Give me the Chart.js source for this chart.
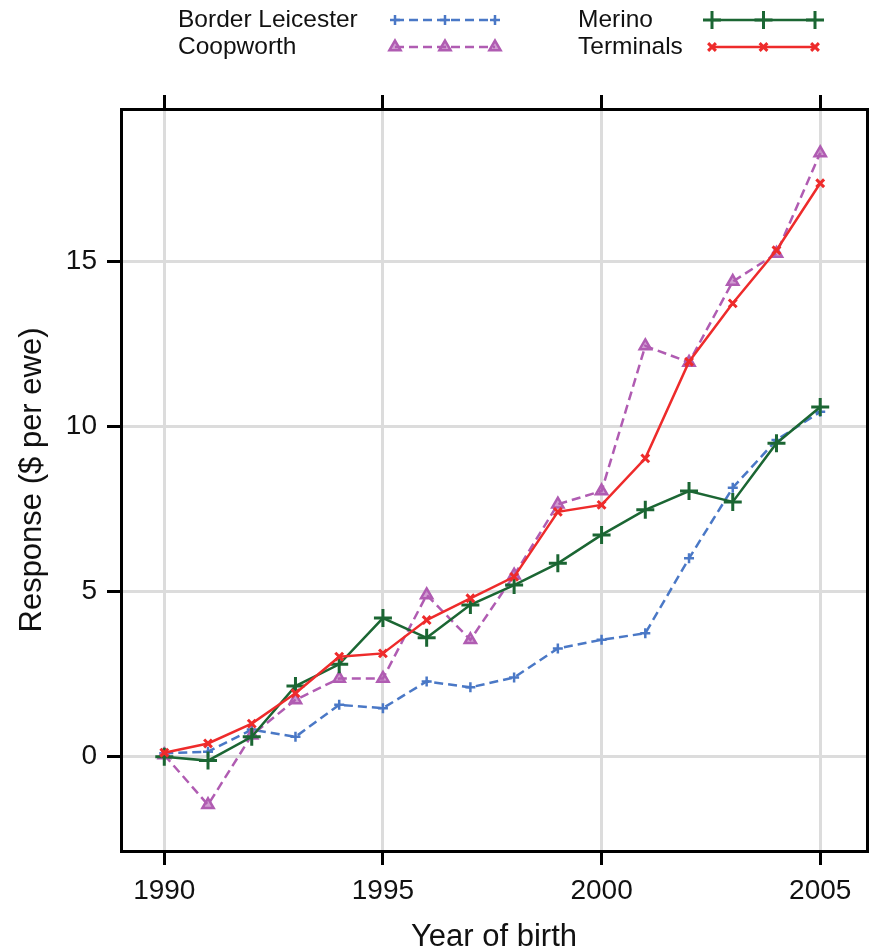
<!DOCTYPE html>
<html>
<head>
<meta charset="utf-8">
<script src="https://cdn.jsdelivr.net/npm/chart.js@4.4.1/dist/chart.umd.min.js"></script>
<style>
  html, body { margin: 0; padding: 0; background: #ffffff; }
  canvas { display: block; }
</style>
</head>
<body>
<canvas id="chart" width="870" height="948"></canvas>
<script>
// Genetic response by year of birth, per breed group
const years = [1990, 1991, 1992, 1993, 1994, 1995, 1996, 1997, 1998, 1999, 2000, 2001, 2002, 2003, 2004, 2005];
const borderLeicester = [0.1, 0.15, 0.82, 0.6, 1.57, 1.47, 2.28, 2.1, 2.4, 3.28, 3.54, 3.74, 6.01, 8.15, 9.6, 10.45];
const coopworth = [0.05, -1.46, 0.65, 1.72, 2.37, 2.37, 4.9, 3.54, 5.5, 7.65, 8.05, 12.45, 11.95, 14.4, 15.25, 18.3];
const merino = [0, -0.12, 0.6, 2.14, 2.8, 4.2, 3.6, 4.6, 5.2, 5.86, 6.72, 7.48, 8.05, 7.72, 9.5, 10.6];
const terminals = [0.12, 0.4, 1.0, 1.92, 3.03, 3.13, 4.14, 4.8, 5.45, 7.42, 7.63, 9.04, 11.97, 13.74, 15.35, 17.38];

const xTickValues = [1990, 1995, 2000, 2005];
const yTickValues = [0, 5, 10, 15];

const xTitle = 'Year of birth';
const yTitle = 'Response ($ per ewe)';

const FONT = "'Liberation Sans', Arial, Helvetica, sans-serif";
const GRID = '#dcdcdc';
const INK = '#111111';

const toPoints = (arr) => years.map((yr, i) => ({ x: yr, y: arr[i] }));

const X_MIN = 1989.01, X_MAX = 2006.07;
const Y_MIN = -2.86, Y_MAX = 19.63;

const setTicks = (values) => (scale) => { scale.ticks = values.map(v => ({ value: v })); };

// fixed axis thickness, no extra room reserved for overhanging labels
const fixSize = (prop, size) => (scale) => {
  scale[prop] = size;
  scale.paddingLeft = 0; scale.paddingRight = 0;
  scale.paddingTop = 0; scale.paddingBottom = 0;
};

// Two-column key drawn above the panel
const keyPlugin = {
  id: 'topKey',
  afterDraw(chart) {
    const ctx = chart.ctx;
    const slots = [
      { ds: 0, tx: 178, y: 20, x0: 395, x1: 495 },
      { ds: 1, tx: 178, y: 47, x0: 395, x1: 495 },
      { ds: 2, tx: 578, y: 20, x0: 712, x1: 815 },
      { ds: 3, tx: 578, y: 47, x0: 712, x1: 815 }
    ];
    ctx.save();
    slots.forEach(s => {
      const d = chart.data.datasets[s.ds];
      ctx.font = '24.5px ' + FONT;
      ctx.fillStyle = INK;
      ctx.textAlign = 'left';
      ctx.textBaseline = 'middle';
      ctx.fillText(d.label, s.tx, s.y);

      ctx.strokeStyle = d.borderColor;
      ctx.lineWidth = d.borderWidth;
      ctx.setLineDash(d.borderDash || []);
      ctx.beginPath();
      ctx.moveTo(s.x0, s.y);
      ctx.lineTo(s.x1, s.y);
      ctx.stroke();
      ctx.setLineDash([]);

      [s.x0, (s.x0 + s.x1) / 2, s.x1].forEach(px => {
        ctx.strokeStyle = d.pointBorderColor;
        ctx.fillStyle = d.pointBackgroundColor;
        ctx.lineWidth = d.pointBorderWidth;
        Chart.helpers.drawPoint(ctx, {
          pointStyle: d.pointStyle,
          radius: d.pointRadius,
          rotation: 0,
          borderWidth: d.pointBorderWidth
        }, px, s.y);
      });
    });
    ctx.restore();
  }
};

const BLUE = '#4a78c6';
const PURPLE = '#b05cb2';
const GREEN = '#1b6633';
const RED = '#ee2b2b';

new Chart(document.getElementById('chart'), {
  type: 'line',
  data: {
    datasets: [
      {
        label: 'Border Leicester',
        data: toPoints(borderLeicester),
        borderColor: BLUE, borderWidth: 2.5, borderDash: [9, 5],
        pointStyle: 'cross', pointRadius: 5, pointBorderWidth: 2.5,
        pointBorderColor: BLUE, pointBackgroundColor: BLUE,
        order: 4
      },
      {
        label: 'Coopworth',
        data: toPoints(coopworth),
        borderColor: PURPLE, borderWidth: 2.5, borderDash: [9, 5],
        pointStyle: 'triangle', pointRadius: 6.5, pointBorderWidth: 2.5,
        pointBorderColor: PURPLE, pointBackgroundColor: 'rgba(176,92,178,0.6)',
        order: 3
      },
      {
        label: 'Merino',
        data: toPoints(merino),
        borderColor: GREEN, borderWidth: 2.5,
        pointStyle: 'cross', pointRadius: 9, pointBorderWidth: 3,
        pointBorderColor: GREEN, pointBackgroundColor: GREEN,
        order: 2
      },
      {
        label: 'Terminals',
        data: toPoints(terminals),
        borderColor: RED, borderWidth: 2.5,
        pointStyle: 'crossRot', pointRadius: 5.5, pointBorderWidth: 3,
        pointBorderColor: RED, pointBackgroundColor: RED,
        order: 1
      }
    ]
  },
  options: {
    responsive: false,
    animation: false,
    events: [],
    layout: { padding: 0, autoPadding: false },
    elements: { line: { tension: 0, fill: false } },
    plugins: { legend: { display: false }, tooltip: { enabled: false } },
    scales: {
      x: {
        type: 'linear', position: 'bottom',
        min: X_MIN, max: X_MAX,
        afterBuildTicks: setTicks(xTickValues),
        afterFit: fixSize('height', 97),
        grid: { color: GRID, lineWidth: 3, tickColor: '#000', tickWidth: 3, tickLength: 14 },
        border: { display: true, color: '#000', width: 3 },
        ticks: {
          color: INK, padding: 9, maxRotation: 0, autoSkip: false,
          font: { family: FONT, size: 28 },
          callback: (v) => String(v)
        },
        title: {
          display: true, text: xTitle, color: INK,
          font: { family: FONT, size: 31, lineHeight: 0.7 },
          padding: 0
        }
      },
      xTop: {
        type: 'linear', position: 'top',
        min: X_MIN, max: X_MAX,
        afterBuildTicks: setTicks(xTickValues),
        afterFit: fixSize('height', 109),
        grid: { drawOnChartArea: false, color: GRID, tickColor: '#000', tickWidth: 3, tickLength: 14 },
        border: { display: true, color: '#000', width: 3 },
        ticks: { display: false }
      },
      y: {
        type: 'linear', position: 'left',
        min: Y_MIN, max: Y_MAX,
        afterBuildTicks: setTicks(yTickValues),
        afterFit: fixSize('width', 121),
        grid: { color: GRID, lineWidth: 3, tickColor: '#000', tickWidth: 3, tickLength: 14 },
        border: { display: true, color: '#000', width: 3 },
        ticks: {
          color: INK, padding: 10,
          font: { family: FONT, size: 28 },
          callback: (v) => String(v)
        },
        title: {
          display: true, text: yTitle, color: INK,
          font: { family: FONT, size: 31, lineHeight: 1.2 },
          padding: { top: 14, bottom: 0 }
        }
      },
      yRight: {
        type: 'linear', position: 'right',
        min: Y_MIN, max: Y_MAX,
        afterBuildTicks: setTicks([]),
        afterFit: fixSize('width', 3),
        grid: { display: false, drawTicks: false },
        border: { display: true, color: '#000', width: 3 },
        ticks: { display: false }
      }
    }
  },
  plugins: [keyPlugin]
});
</script>
</body>
</html>
